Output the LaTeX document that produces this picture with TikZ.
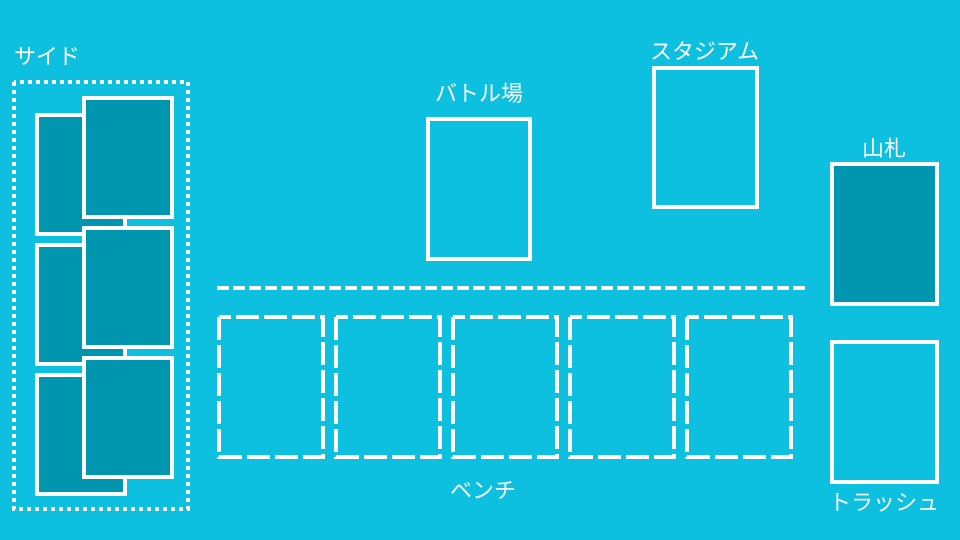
\documentclass[tikz,border=0pt]{standalone}
\usepackage{fontspec}
\newfontfamily\jpfont{Noto Sans CJK JP}
\definecolor{bgcol}{HTML}{0EC0DF}
\definecolor{cardcol}{HTML}{0096AF}
\tikzset{
  lbl/.style={text=white, font=\jpfont\fontsize{22}{25}\selectfont, inner sep=0pt, anchor=center},
  cardbox/.style={draw=white, line width=4pt, fill=cardcol},
  slotbox/.style={draw=white, line width=4pt},
  benchbox/.style={draw=white, line width=4pt, dash pattern=on 23pt off 5pt},
  sepline/.style={draw=white, line width=3.6pt, dash pattern=on 12pt off 4pt},
  sidebox/.style={draw=white, line width=3.8pt, dash pattern=on 4pt off 4pt}
}
\begin{document}
\begin{tikzpicture}[x=1pt,y=-1pt]
\fill[bgcol] (0,0) rectangle (960,540);
\useasboundingbox (0,0) rectangle (960,540);
% side area
\draw[sidebox] (14,82) rectangle (188,509);
\foreach \i/\t in {1/115,2/245,3/375}{
  \draw[cardbox] (37,\t) rectangle (125,\t+119);
}
\foreach \i/\t in {1/98,2/228,3/358}{
  \draw[cardbox] (84,\t) rectangle (172,\t+119);
}
\node[lbl] (side) at (47,56) {サイド};
% battle field
\draw[slotbox] (428,119) rectangle (530,259);
\node[lbl] (battle) at (479.5,93) {バトル場};
% stadium
\draw[slotbox] (654,68) rectangle (757,207);
\node[lbl] (stadium) at (705,51) {スタジアム};
% deck
\draw[cardbox] (832,164) rectangle (937,304);
\node[lbl] (deck) at (884.5,148.5) {山札};
% trash
\draw[slotbox] (832,342) rectangle (937,482);
\node[lbl] (trash) at (884.5,503) {トラッシュ};
% separator
\coordinate (sepL) at (217,288);
\coordinate (sepR) at (805,288);
\draw[sepline] (sepL) -- (sepR);
% bench
\foreach \x in {219,336,453,570,687}{
  \draw[benchbox] (\x,317) rectangle (\x+104,457);
}
\node[lbl] (bench) at (483,490) {ベンチ};
\end{tikzpicture}
\end{document}
